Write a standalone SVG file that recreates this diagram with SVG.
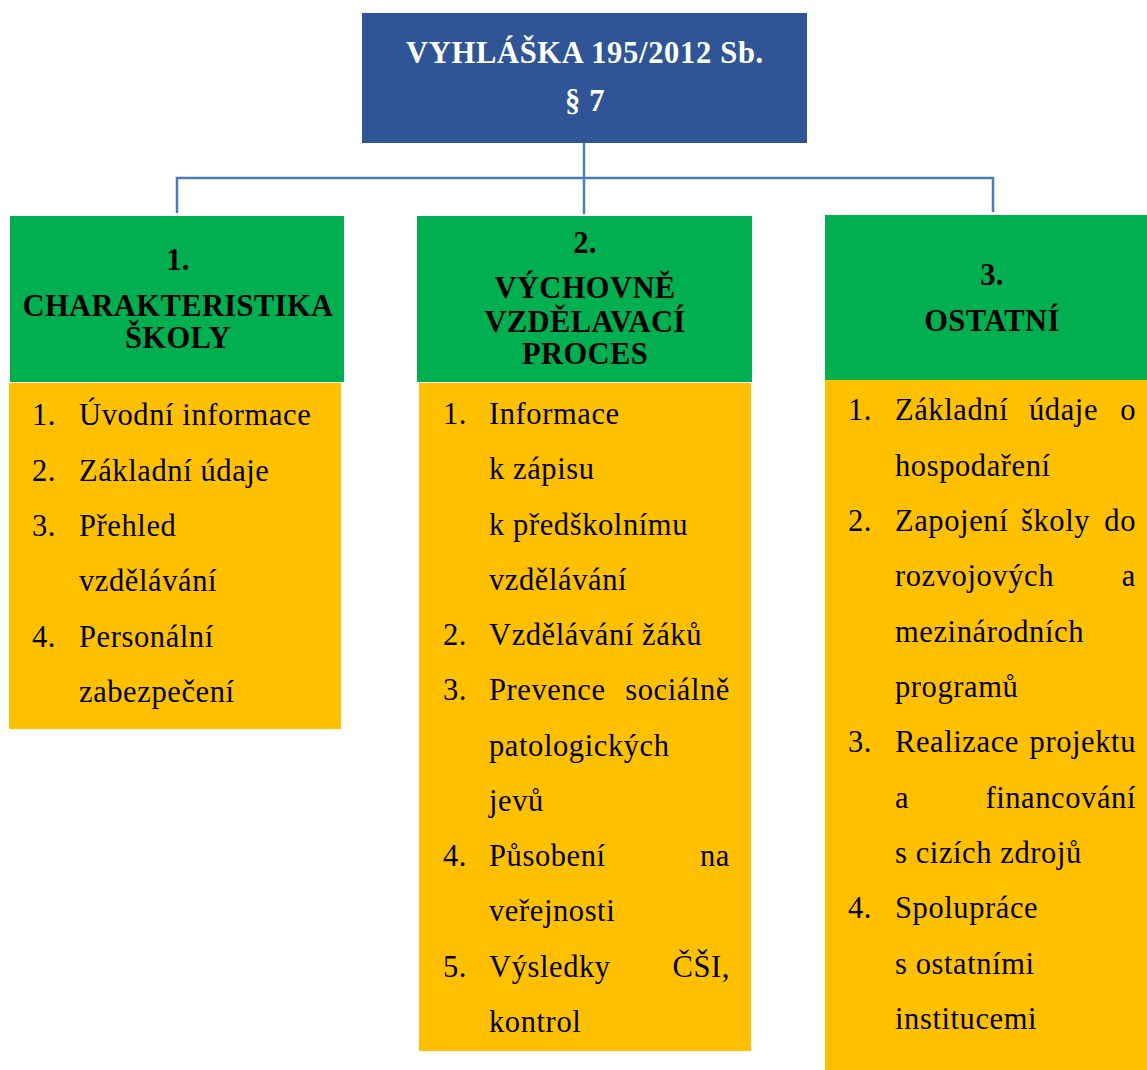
<svg xmlns="http://www.w3.org/2000/svg" width="1147" height="1070" viewBox="0 0 1147 1070">
<style>
.hd{font-family:"Liberation Serif","Times New Roman",serif;font-weight:bold;font-size:30.5px;letter-spacing:0.4px;text-anchor:middle}
.t{letter-spacing:0.7px}
.li{font-family:"Liberation Serif","Times New Roman",serif;font-size:30.5px;letter-spacing:0.6px;fill:#000}
.e{text-anchor:end}
.g{fill:#00B050}
.y{fill:#FFC000}
.c{stroke:#4A7EBB;stroke-width:2.5;fill:none}
</style>
<rect width="1147" height="1070" fill="#fff"/>
<g id="connectors">
<path class="c" d="M584,143 V214"/>
<path class="c" d="M177,213 V178 H993 V212"/>
</g>
<g id="root">
<rect x="362" y="13" width="445" height="130" fill="#2F5597"/>
<text class="hd t" x="585" y="63" fill="#fff">VYHLÁŠKA 195/2012 Sb.</text>
<text class="hd t" x="585" y="111" fill="#fff">§ 7</text>
</g>
<g id="node1">
<rect class="g" x="10" y="216" width="334" height="166"/>
<text class="hd" x="178" y="270">1.</text>
<text class="hd" x="178" y="316">CHARAKTERISTIKA</text>
<text class="hd" x="178" y="348">ŠKOLY</text>
<rect class="y" x="9" y="383" width="332" height="346"/>
<g class="li">
<text x="32" y="425">1.</text><text x="79" y="425">Úvodní informace</text>
<text x="32" y="481">2.</text><text x="79" y="481">Základní údaje</text>
<text x="32" y="536">3.</text><text x="79" y="536">Přehled</text>
<text x="79" y="591">vzdělávání</text>
<text x="32" y="647">4.</text><text x="79" y="647">Personální</text>
<text x="79" y="702">zabezpečení</text>
</g>
</g>
<g id="node2">
<rect class="g" x="417" y="216" width="335" height="166"/>
<text class="hd" x="585" y="253">2.</text>
<text class="hd" x="585" y="298">VÝCHOVNĚ</text>
<text class="hd" x="585" y="332">VZDĚLAVACÍ</text>
<text class="hd" x="585" y="364">PROCES</text>
<rect class="y" x="419" y="383" width="332" height="668"/>
<g class="li">
<text x="443" y="424">1.</text><text x="489" y="424">Informace</text>
<text x="489" y="479">k zápisu</text>
<text x="489" y="535">k předškolnímu</text>
<text x="489" y="590">vzdělávání</text>
<text x="443" y="645">2.</text><text x="489" y="645">Vzdělávání žáků</text>
<text x="443" y="700">3.</text><text x="489" y="700">Prevence</text><text class="e" x="730" y="700">sociálně</text>
<text x="489" y="756">patologických</text>
<text x="489" y="811">jevů</text>
<text x="443" y="866">4.</text><text x="489" y="866">Působení</text><text class="e" x="730" y="866">na</text>
<text x="489" y="921">veřejnosti</text>
<text x="443" y="977">5.</text><text x="489" y="977">Výsledky</text><text class="e" x="730" y="977">ČŠI,</text>
<text x="489" y="1032">kontrol</text>
</g>
</g>
<g id="node3">
<rect class="g" x="825" y="215" width="322" height="165"/>
<text class="hd" x="992" y="285">3.</text>
<text class="hd" x="992" y="331">OSTATNÍ</text>
<rect class="y" x="825" y="380" width="322" height="690"/>
<g class="li">
<text x="848" y="420">1.</text><text x="895" y="420">Základní</text><text x="1029" y="420">údaje</text><text class="e" x="1136" y="420">o</text>
<text x="895" y="476">hospodaření</text>
<text x="848" y="531">2.</text><text x="895" y="531">Zapojení</text><text x="1021" y="531">školy</text><text class="e" x="1136" y="531">do</text>
<text x="895" y="586">rozvojových</text><text class="e" x="1136" y="586">a</text>
<text x="895" y="642">mezinárodních</text>
<text x="895" y="697">programů</text>
<text x="848" y="752">3.</text><text x="895" y="752">Realizace</text><text class="e" x="1136" y="752">projektu</text>
<text x="895" y="808">a</text><text class="e" x="1136" y="808">financování</text>
<text x="895" y="863">s cizích zdrojů</text>
<text x="848" y="918">4.</text><text x="895" y="918">Spolupráce</text>
<text x="895" y="974">s ostatními</text>
<text x="895" y="1029">institucemi</text>
</g>
</g>
</svg>
